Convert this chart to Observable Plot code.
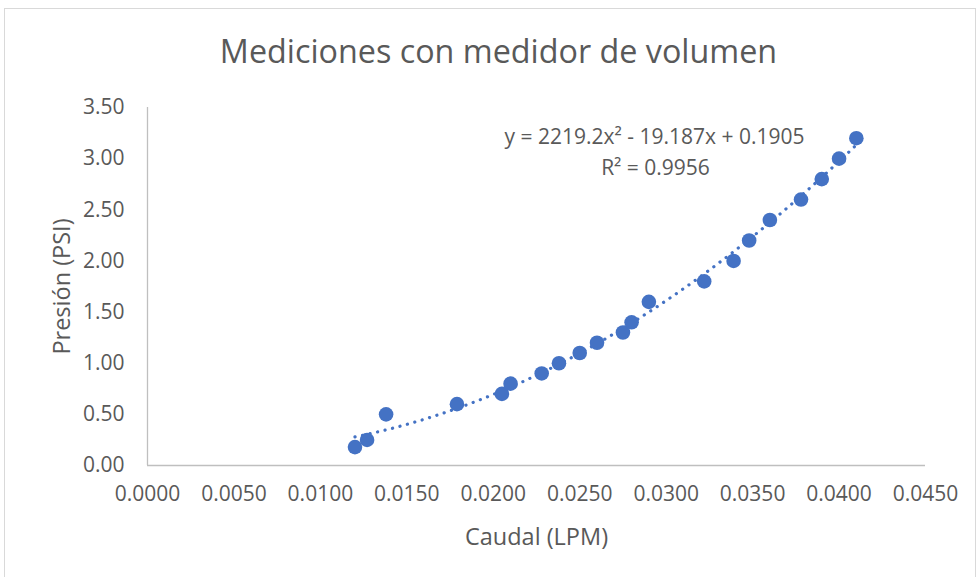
<!DOCTYPE html>
<html>
<head>
<meta charset="utf-8">
<script src="https://cdn.jsdelivr.net/npm/d3@7"></script>
<script src="https://cdn.jsdelivr.net/npm/@observablehq/plot@0.6"></script>
<style>
  html, body { margin: 0; padding: 0; background: #fff; }
  #wrap { position: relative; width: 980px; height: 577px; overflow: hidden; background: #fff; }
  #border { position: absolute; left: 4px; top: 8px; width: 972px; height: 580px; border: 1px solid #d9d9d9; box-sizing: border-box; }
  #chart { position: absolute; left: 0; top: 0; }
</style>
</head>
<body>
<div id="wrap"><div id="border"></div><div id="chart"></div></div>
<script>
// Data
const caudal = [0.0120, 0.0127, 0.0138, 0.0179, 0.0205, 0.0210, 0.0228, 0.0238, 0.0250, 0.0260, 0.0275,
                0.0280, 0.0290, 0.0322, 0.0339, 0.0348, 0.0360, 0.0378, 0.0390, 0.0400, 0.0410];
const presion = [0.18, 0.25, 0.50, 0.60, 0.70, 0.80, 0.90, 1.00, 1.10, 1.20, 1.30,
                 1.40, 1.60, 1.80, 2.00, 2.20, 2.40, 2.60, 2.80, 3.00, 3.20];
const xTicks = [0, 0.005, 0.010, 0.015, 0.020, 0.025, 0.030, 0.035, 0.040, 0.045];
const yTicks = [0, 0.5, 1.0, 1.5, 2.0, 2.5, 3.0, 3.5];
// Trendline coefficients as printed on the chart (a x^2 + b x + c)
const trendCoef = [2219.2, -19.187, 0.1905];
const titleText = "Mediciones con medidor de volumen";
const xLabel = "Caudal (LPM)";
const yLabel = "Presión (PSI)";
const eqLines = ["y = 2219.2x² - 19.187x + 0.1905", "R² = 0.9956"];

const points = caudal.map((x, i) => ({x, y: presion[i]}));
const xmin = d3.min(caudal), xmax = d3.max(caudal);
const trend = d3.range(0, 121).map(i => {
  const x = xmin + (xmax - xmin) * i / 120;
  return {x, y: trendCoef[0] * x * x + trendCoef[1] * x + trendCoef[2]};
});

const blue = "#4472C4";
const grey = "#595959";

const chart = Plot.plot({
  width: 980,
  height: 577,
  marginLeft: 147,
  marginRight: 55,
  marginTop: 107,
  marginBottom: 112,
  style: {fontFamily: "'Open Sans', sans-serif", color: grey, background: "transparent"},
  x: {domain: [0, 0.045], axis: null},
  y: {domain: [0, 3.5], axis: null},
  marks: [
    Plot.ruleY([0], {stroke: "#bfbfbf", strokeWidth: 1.3}),
    Plot.ruleX([0], {stroke: "#bfbfbf", strokeWidth: 1.3}),
    Plot.axisX({ticks: xTicks, tickSize: 0, tickPadding: 21, tickFormat: d3.format(".4f"), fontSize: 21, label: null}),
    Plot.axisY({ticks: yTicks, tickSize: 0, tickPadding: 23, tickFormat: d3.format(".2f"), fontSize: 21, label: null}),
    Plot.line(trend, {x: "x", y: "y", stroke: blue, strokeWidth: 3.2, strokeDasharray: "0.1 7.6", strokeLinecap: "round"}),
    Plot.dot(points, {x: "x", y: "y", r: 7.3, fill: blue, stroke: null}),
    Plot.text([titleText], {frameAnchor: "top", lineAnchor: "middle", dx: -38, dy: -55, fontSize: 32.3, fill: grey}),
    Plot.text([xLabel], {frameAnchor: "bottom", lineAnchor: "middle", dy: 72, fontSize: 23.5, fill: grey}),
    Plot.text([yLabel], {frameAnchor: "left", textAnchor: "middle", lineAnchor: "middle", dx: -85, rotate: -90, fontSize: 23.5, fill: grey}),
    Plot.text([eqLines[0]], {frameAnchor: "top", lineAnchor: "middle", dx: 118, dy: 30, fontSize: 21, fill: grey}),
    Plot.text([eqLines[1]], {frameAnchor: "top", lineAnchor: "middle", dx: 119, dy: 61, fontSize: 21, fill: grey})
  ]
});
document.getElementById("chart").appendChild(chart);
</script>
</body>
</html>
